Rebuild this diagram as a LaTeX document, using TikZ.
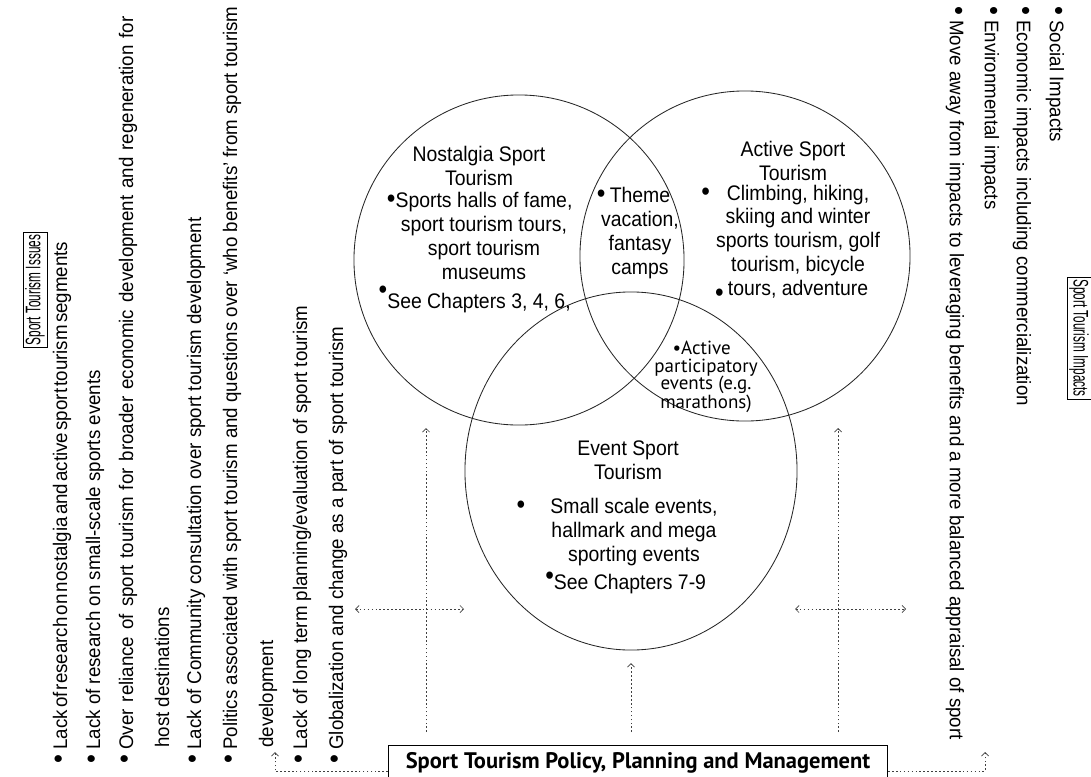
\documentclass[tikz,border=0pt]{standalone}
\usepackage{fontspec}
\setmainfont{Liberation Sans}
\newfontfamily\condsf[FakeStretch=0.92]{Liberation Sans}
\newfontfamily\listsf[FakeStretch=0.95]{Liberation Sans}
\newfontfamily\boxsf[FakeStretch=0.56]{Liberation Sans}
\newfontfamily\humsf{PT Sans}
\newcommand{\bigdot}{{\fontsize{19}{19}\selectfont •}}
\usetikzlibrary{shapes.geometric, arrows.meta}

\begin{document}
\begin{tikzpicture}[
    x=0.025cm, y=-0.025cm,
    venn/.style={circle, draw=black!85, line width=0.6pt, minimum size=8.25cm, inner sep=0pt},
    vtext/.style={align=center, inner sep=0pt, font=\condsf\fontsize{15}{17}\selectfont},
    smalltext/.style={align=center, inner sep=0pt, font=\humsf\fontsize{13.5}{12.4}\selectfont},
    item/.style={anchor=west, inner sep=0pt, font=\listsf\fontsize{14}{16}\selectfont},
    upitem/.style={item, rotate=90},
    downitem/.style={item, rotate=-90},
    headbox/.style={draw, line width=0.5pt, inner sep=1.5pt, font=\boxsf\fontsize{15}{16}\selectfont},
    policybox/.style={draw, line width=0.6pt, minimum width=12.475cm, minimum height=1cm, inner ysep=2pt,
        text height=12pt, text depth=7.8pt, font=\humsf\bfseries\fontsize{16}{18}\selectfont},
    link/.style={black!75, line width=0.5pt, dash pattern=on 1.2pt off 1.6pt},
    tip/.style={-{Straight Barb[length=2.5pt,width=5pt]}},
    twotip/.style={{Straight Barb[length=2.5pt,width=5pt]}-{Straight Barb[length=2.5pt,width=5pt]}}
]
\useasboundingbox (0,0) rectangle (1091,776);

% Venn circles
\node[venn] (nostalgia) at (519,260) {};
\node[venn] (active) at (745,256) {};
\node[venn, ellipse, minimum width=8.3cm, minimum height=8.95cm] (event) at (631,471) {};

% Nostalgia sport tourism
\node[vtext] (nosttitle) at (479,166) {Nostalgia Sport\\Tourism};
\node[vtext] (nostlist) at (484,236) {\llap{\bigdot}Sports halls of fame,\\sport tourism tours,\\sport tourism\\museums};
\node[vtext] (nostsee) at (479,299) {\llap{\raisebox{0.9ex}{\bigdot}}See Chapters 3, 4, 6,};

% Overlap of nostalgia and active
\node[vtext] (theme) at (640,233) {\llap{\bigdot\hspace{3pt}}Theme\\vacation,\\fantasy\\camps};

% Active sport tourism
\node[vtext] (acttitle) at (793,161) {Active Sport\\Tourism};
\node[vtext] (actlist) at (798,243) {\llap{\bigdot\hspace{12pt}}Climbing, hiking,\\skiing and winter\\sports tourism, golf\\tourism, bicycle\\\llap{\raisebox{-0.5ex}{\bigdot}\hspace{3pt}}tours, adventure};

% Overlap of active and event
\node[smalltext] (particip) at (706,377) {\llap{•}Active\\participatory\\events (e.g.\\marathons)};

% Event sport tourism
\node[vtext] (evtitle) at (628,460) {Event Sport\\Tourism};
\node[vtext] (evlist) at (634,532) {\llap{\bigdot\hspace{18pt}}Small scale events,\\hallmark and mega\\sporting events};
\node[vtext] (evsee) at (630,583) {\llap{\raisebox{0.5ex}{\bigdot}}See Chapters 7-9};

% Sport tourism issues
\node[headbox, rotate=90] (issues) at (35,290) {Sport Tourism Issues};
\node[upitem] (iss1) at (62,764) {\bigdot\ \spaceskip=1.6pt Lack of research on nostalgia and active sport tourism segments};
\node[upitem] (iss2) at (95,764) {\bigdot\ Lack of research on small-scale sports events};
\node[upitem] (iss3) at (128,764) {\bigdot\ \spaceskip=5pt Over reliance of sport tourism for broader economic development and regeneration for};
\node[upitem] (iss3b) at (162,748) {host destinations};
\node[upitem] (iss4) at (196,764) {\bigdot\ Lack of Community consultation over sport tourism development};
\node[upitem] (iss5) at (232,764) {\bigdot\ Politics associated with sport tourism and questions over ‘who benefits’ from sport tourism};
\node[upitem] (iss5b) at (268,748) {development};
\node[upitem] (iss6) at (302,764) {\bigdot\ Lack of long term planning/evaluation of sport tourism};
\node[upitem] (iss7) at (338,764) {\bigdot\ Globalization and change as a part of sport tourism};

% Sport tourism impacts
\node[headbox, rotate=-90] (impacts) at (1079,338) {Sport Tourism Impacts};
\node[downitem] (imp1) at (1055,6) {\bigdot\ Social Impacts};
\node[downitem] (imp2) at (1022,6) {\bigdot\ Economic impacts including commercialization};
\node[downitem] (imp3) at (990,6) {\bigdot\ Environmental impacts};
\node[downitem] (imp4) at (955,6) {\bigdot\ Move away from impacts to leveraging benefits and a more balanced appraisal of sport};

% Policy box
\node[policybox, anchor=north] (policy) at (638,745) {Sport Tourism Policy, Planning and Management};

% Arrow ends
\coordinate (issuesin) at (275,752);
\coordinate (impactsin) at (985,752);
\coordinate (nostin) at (426,428);
\coordinate (actin) at (838,428);
\coordinate (ptop) at ([yshift=9.2pt]policy.north);
\coordinate (la) at (355,609);
\coordinate (lb) at (464,609);
\coordinate (ra) at (795,609);
\coordinate (rb) at (906,609);

% Links
\draw[link, tip] ([yshift=-4.3pt]policy.west) -| (issuesin);
\draw[link, tip] ([yshift=-4.3pt]policy.east) -| (impactsin);
\draw[link, tip] (ptop -| nostin) -- (nostin);
\draw[link, tip] (ptop -| actin) -- (actin);
\draw[link, tip] (ptop -| event.south) -- ([yshift=-9pt]event.south);
\draw[link, twotip] (la) -- (lb);
\draw[link, twotip] (ra) -- (rb);

\end{tikzpicture}
\end{document}
